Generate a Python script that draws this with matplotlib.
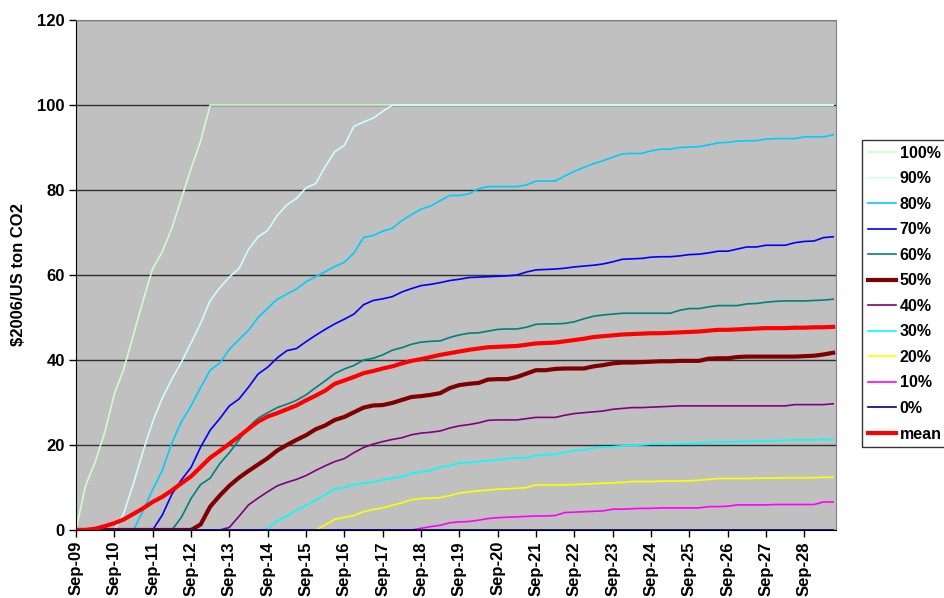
import numpy as np
import matplotlib.pyplot as plt

# quarterly price paths, Sep-09 .. Jun-29 (80 quarters)
tick_labels = ['Sep-%02d' % (y % 100) for y in range(2009, 2029)]

p100 = [0, 10.5, 16, 23, 32, 38, 46, 54, 61.5, 65.5, 71, 78, 85, 91.5] + [100] * 66

p90 = [0, 0, 0, 0, 0, 4, 11, 18.5, 25.5, 31, 35.5, 39.5, 44, 48.6, 54, 57,
       59.5, 61.5, 66, 69, 70.5, 74, 76.5, 78, 80.5, 81.5, 85.5, 89, 90.5, 95,
       96, 96.9, 98.5] + [100] * 47

p80 = [0, 0, 0, 0, 0, 0, 0, 4.5, 9.5, 14, 20.5, 25.5, 29.2, 33.5, 37.6, 39.3,
       42.5, 44.8, 47, 50, 52.2, 54.3, 55.5, 56.7, 58.4, 59.6, 60.8, 62, 63, 65.2,
       68.8, 69.3, 70.3, 71, 72.8, 74.2, 75.5, 76.2, 77.5, 78.7, 78.7, 79.1, 80.3, 80.8, 80.8,
       80.8, 80.8, 81.2, 82.1, 82.1, 82.1, 83.3, 84.4, 85.3, 86.2, 86.9, 87.7, 88.5, 88.6, 88.6,
       89.2, 89.6, 89.6, 90, 90.1, 90.2, 90.6, 91.1, 91.2, 91.5, 91.6, 91.6, 92, 92.1, 92.1,
       92.1, 92.5, 92.5, 92.5, 93]

p70 = [0] * 9 + [3.5, 8.4, 11.8, 14.7, 19.5, 23.5, 26.2, 29.2, 30.8, 33.6, 36.7,
       38.3, 40.5, 42.2, 42.7, 44.3, 45.8, 47.2, 48.5, 49.6, 50.8, 53, 54, 54.4, 54.9, 56,
       56.8, 57.5, 57.8, 58.2, 58.7, 59, 59.4, 59.5, 59.6, 59.7, 59.8, 60, 60.7, 61.2, 61.3,
       61.4, 61.6, 61.9, 62.1, 62.3, 62.6, 63.1, 63.7, 63.8, 63.9, 64.2, 64.3, 64.3, 64.5, 64.8,
       64.9, 65.2, 65.6, 65.6, 66.1, 66.6, 66.6, 67, 67, 67, 67.6, 67.9, 68, 68.8, 69]

p60 = [0] * 11 + [3, 7.4, 10.7, 12.2, 15.6, 18.2, 21.2, 24.2, 26.3, 27.6, 28.8,
       29.6, 30.5, 31.8, 33.5, 35.1, 36.8, 37.9, 38.7, 40, 40.4, 41.2, 42.3, 42.9, 43.7, 44.2,
       44.4, 44.5, 45.3, 45.9, 46.3, 46.4, 46.8, 47.2, 47.3, 47.3, 47.7, 48.4, 48.5, 48.5, 48.6,
       49, 49.7, 50.3, 50.6, 50.8, 51, 51, 51, 51, 51, 51, 51.7, 52.1, 52.1, 52.5, 52.8,
       52.8, 52.8, 53.2, 53.3, 53.6, 53.8, 53.9, 53.9, 53.9, 54, 54.1, 54.3]

p50 = [0] * 13 + [1.3, 5.5, 8.1, 10.4, 12.3, 13.9, 15.4, 16.9, 18.7, 20, 21.2,
       22.3, 23.7, 24.6, 25.9, 26.6, 27.7, 28.8, 29.3, 29.4, 29.9, 30.6, 31.3, 31.5, 31.8, 32.2,
       33.4, 34.1, 34.4, 34.6, 35.4, 35.5, 35.5, 36, 36.8, 37.6, 37.6, 37.9, 38, 38, 38,
       38.5, 38.8, 39.2, 39.4, 39.4, 39.5, 39.6, 39.7, 39.7, 39.8, 39.8, 39.8, 40.3, 40.4, 40.4,
       40.7, 40.8, 40.8, 40.8, 40.8, 40.8, 40.8, 40.9, 41, 41.3, 41.7]

p40 = [0] * 16 + [0.6, 3.2, 5.9, 7.5, 9, 10.4, 11.2, 11.9, 12.8, 14, 15.1,
       16.1, 16.8, 18.2, 19.4, 20.2, 20.8, 21.3, 21.7, 22.4, 22.8, 23, 23.3, 24, 24.5, 24.8,
       25.2, 25.8, 25.9, 25.9, 25.9, 26.2, 26.5, 26.5, 26.5, 27, 27.4, 27.6, 27.8, 28, 28.4,
       28.6, 28.8, 28.8, 28.9, 29, 29.1, 29.2, 29.2, 29.2, 29.2, 29.2, 29.2, 29.2, 29.2, 29.2,
       29.2, 29.2, 29.2, 29.5, 29.5, 29.5, 29.5, 29.7]

p30 = [0] * 20 + [0.3, 2.2, 3.3, 4.6, 5.8, 7, 8.3, 9.7, 10, 10.7, 11, 11.3,
       11.8, 12.2, 12.5, 13.3, 13.7, 14, 14.8, 15.2, 15.7, 15.9, 16.1, 16.3, 16.5, 16.8, 17,
       17, 17.6, 17.7, 17.8, 18.3, 18.7, 18.8, 19.3, 19.5, 19.6, 19.8, 19.9, 20, 20.2, 20.2,
       20.2, 20.3, 20.3, 20.4, 20.6, 20.7, 20.7, 20.8, 20.8, 20.9, 20.9, 21, 21.1, 21.2, 21.2,
       21.2, 21.3, 21.3]

p20 = [0] * 26 + [1.2, 2.5, 3, 3.4, 4.3, 4.8, 5.2, 5.8, 6.4, 7.1, 7.4, 7.5,
       7.6, 8.1, 8.7, 9, 9.2, 9.4, 9.6, 9.7, 9.8, 10, 10.6, 10.6, 10.6, 10.6, 10.7, 10.8,
       10.9, 11, 11.1, 11.2, 11.4, 11.4, 11.4, 11.5, 11.5, 11.5, 11.6, 11.7, 11.9, 12.1, 12.1,
       12.1, 12.1, 12.2, 12.2, 12.2, 12.3, 12.3, 12.3, 12.3, 12.4, 12.4]

p10 = [0] * 36 + [0.4, 0.8, 1.1, 1.7, 1.9, 2, 2.3, 2.7, 2.9, 3, 3.1, 3.2,
       3.3, 3.3, 3.4, 4.1, 4.2, 4.3, 4.4, 4.5, 4.9, 4.9, 5, 5.1, 5.1, 5.2, 5.2, 5.2,
       5.2, 5.2, 5.5, 5.5, 5.6, 5.9, 5.9, 5.9, 5.9, 6, 6, 6, 6, 6, 6.6, 6.6]

p0 = [0] * 80

pmean = [0, 0, 0.3, 0.9, 1.6, 2.5, 3.8, 5.1, 6.6, 7.8, 9.3, 11, 12.6, 14.8, 17,
         18.6, 20.3, 22, 23.8, 25.5, 26.7, 27.5, 28.4, 29.3, 30.5, 31.6, 32.8, 34.4, 35.2, 36,
         36.9, 37.4, 38, 38.5, 39.2, 39.8, 40.2, 40.7, 41.2, 41.6, 42, 42.4, 42.7, 43, 43.1,
         43.2, 43.3, 43.6, 43.9, 44, 44.1, 44.4, 44.7, 45, 45.4, 45.6, 45.8, 46, 46.1, 46.2,
         46.3, 46.3, 46.4, 46.5, 46.6, 46.7, 46.9, 47.1, 47.1, 47.2, 47.3, 47.4, 47.5, 47.5, 47.5,
         47.6, 47.6, 47.7, 47.7, 47.8]

series = [
    ('100%', p100, '#ccffcc', 1.2),
    ('90%', p90, '#ccffff', 1.2),
    ('80%', p80, '#00ccff', 1.2),
    ('70%', p70, '#0000ff', 1.2),
    ('60%', p60, '#008080', 1.2),
    ('50%', p50, '#800000', 3.0),
    ('40%', p40, '#800080', 1.2),
    ('30%', p30, '#00ffff', 1.2),
    ('20%', p20, '#ffff00', 1.2),
    ('10%', p10, '#ff00ff', 1.2),
    ('0%', p0, '#000080', 1.2),
    ('mean', pmean, '#ff0000', 3.0),
]

plt.rcParams['font.family'] = ['Liberation Sans', 'DejaVu Sans']
plt.rcParams['font.weight'] = 'bold'

fig = plt.figure(figsize=(9.45, 5.98), dpi=100)
ax = fig.add_axes([76 / 945, 68 / 598, 760 / 945, 510 / 598])
ax.set_facecolor('#c0c0c0')

x = np.arange(80)
for name, vals, col, lw in series:
    ax.plot(x, vals, color=col, linewidth=lw, label=name, solid_joinstyle='round')

ax.set_xlim(0, 79.3)
ax.set_ylim(0, 120)
ax.set_yticks(np.arange(0, 121, 20))
ax.set_xticks(np.arange(0, 80, 4))
ax.set_xticklabels(tick_labels, rotation=90, fontsize=12, fontweight='bold')
ax.tick_params(axis='y', labelsize=12, direction='out', length=5, width=1, pad=3)
ax.tick_params(axis='x', direction='out', length=5, width=1, pad=3)
for t in ax.get_yticklabels():
    t.set_fontweight('bold')

ax.grid(axis='y', color='#303030', linewidth=1)
ax.set_axisbelow(True)
for s in ['top', 'right']:
    ax.spines[s].set_color('#808080')
ax.spines['left'].set_color('black')
ax.spines['bottom'].set_color('black')

ax.set_ylabel('$2006/US ton CO2', fontsize=12, fontweight='bold', labelpad=8)

# legend sits on the right edge of the figure
leg = fig.legend(loc='upper left', bbox_to_anchor=(862 / 945, 1 - 140 / 598),
                 fontsize=11.5, frameon=True, fancybox=False, edgecolor='black',
                 handlelength=1.75, handletextpad=0.25, labelspacing=0.66,
                 borderpad=0.35, borderaxespad=0)
leg.get_frame().set_linewidth(1)

fig.savefig('out.png', dpi=100)
